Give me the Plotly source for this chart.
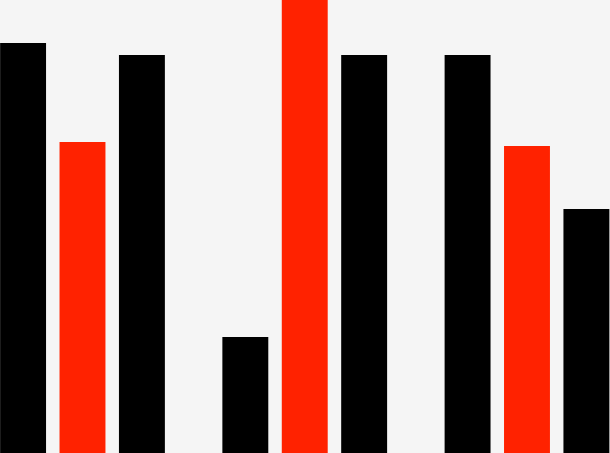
import plotly.graph_objects as go

categories = ["A", "B", "C"]
series_1 = [410, 116, 398]   # black, first in each group
series_2 = [311, 470, 307]   # red, middle in each group
series_3 = [398, 398, 244]   # black, last in each group

fig = go.Figure()
fig.add_trace(go.Bar(x=categories, y=series_1, marker=dict(color="#000000", line=dict(width=0))))
fig.add_trace(go.Bar(x=categories, y=series_2, marker=dict(color="#ff2200", line=dict(width=0))))
fig.add_trace(go.Bar(x=categories, y=series_3, marker=dict(color="#000000", line=dict(width=0))))

fig.update_layout(
    width=610, height=453,
    margin=dict(l=0, r=0, t=0, b=0),
    paper_bgcolor="#f5f5f5", plot_bgcolor="#f5f5f5",
    barmode="group", bargap=0.198, bargroupgap=0.227,
    showlegend=False,
    xaxis=dict(visible=False, range=[-0.3712, 2.3735]),
    yaxis=dict(visible=False, range=[0, 453]),
)
fig.write_html(
    "out.html",
    config={"displayModeBar": False},
    post_script="document.body.style.margin='0';document.body.style.overflow='hidden';document.body.style.background='#f5f5f5';",
)
